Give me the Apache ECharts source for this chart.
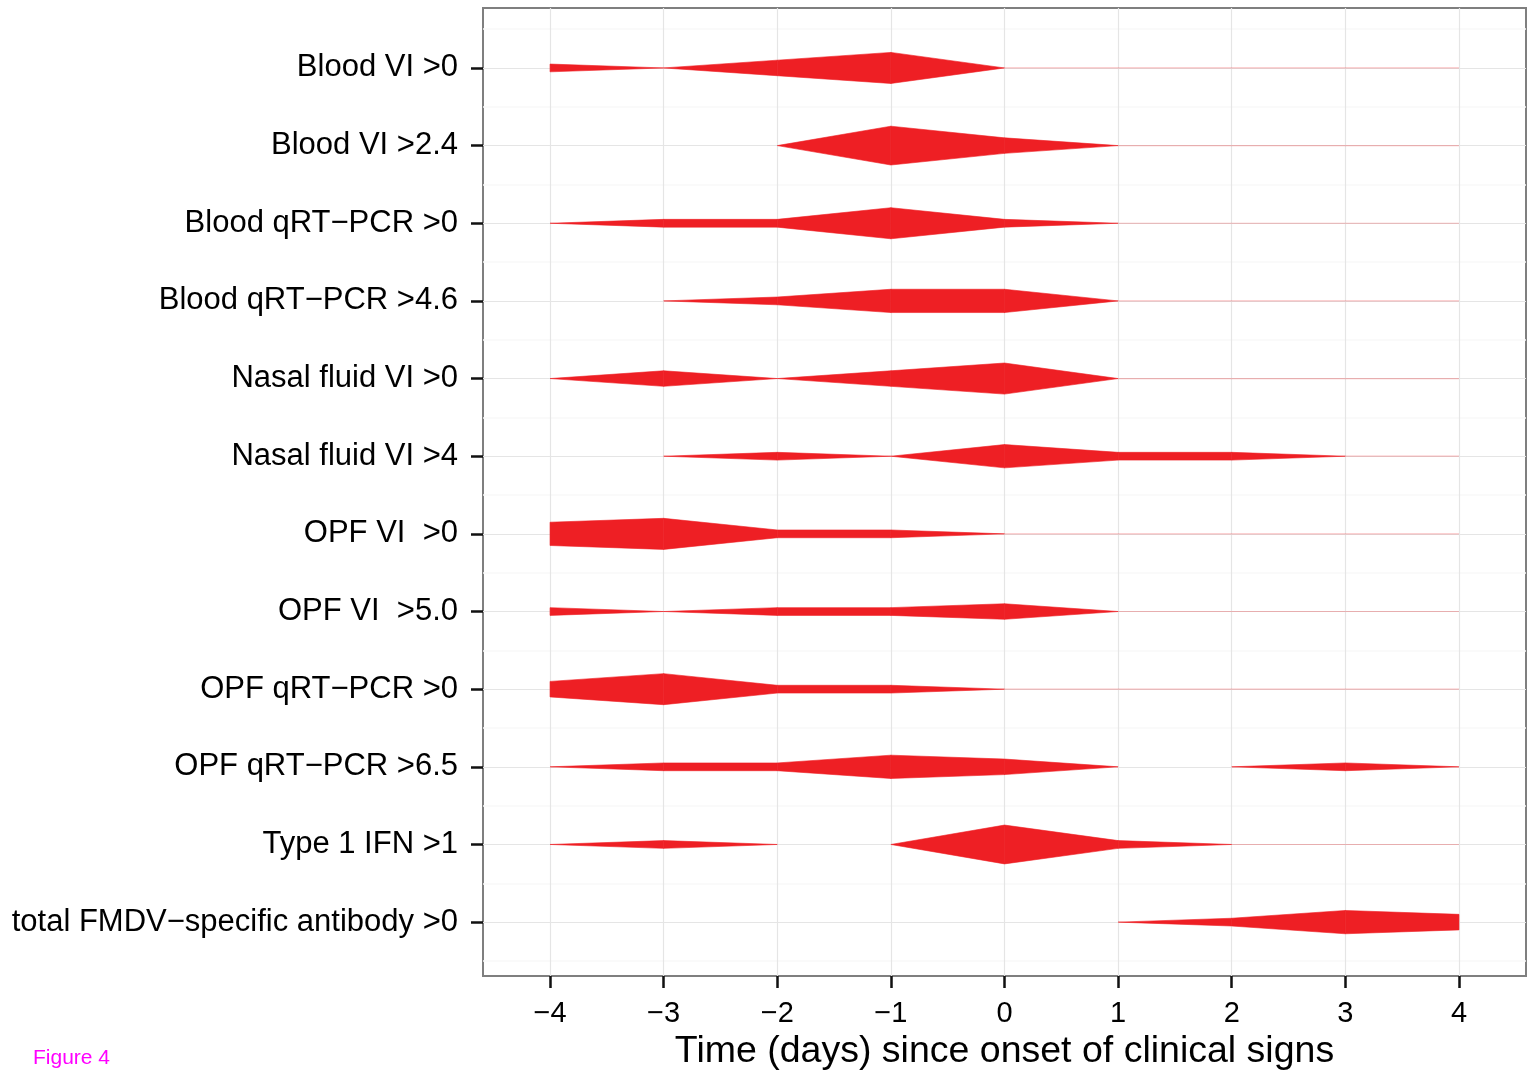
<!DOCTYPE html>
<html>
<head>
<meta charset="utf-8">
<script src="https://cdn.jsdelivr.net/npm/echarts@6/dist/echarts.min.js"></script>
<style>
html,body{margin:0;padding:0;background:#fff;}
#chart{width:1532px;height:1076px;}
</style>
</head>
<body>
<div id="chart"></div>
<script>
// Days since onset of clinical signs
const days = [-4, -3, -2, -1, 0, 1, 2, 3, 4];
const xTicks = [-4, -3, -2, -1, 0, 1, 2, 3, 4];

// Row labels (top to bottom)
const rowNames = [
  'Blood VI >0',
  'Blood VI >2.4',
  'Blood qRT\u2212PCR >0',
  'Blood qRT\u2212PCR >4.6',
  'Nasal fluid VI >0',
  'Nasal fluid VI >4',
  'OPF VI  >0',
  'OPF VI  >5.0',
  'OPF qRT\u2212PCR >0',
  'OPF qRT\u2212PCR >6.5',
  'Type 1 IFN >1',
  'total FMDV\u2212specific antibody >0'
];

// Counts per day (null = not observed)
const bloodVI0    = [1, 0, 2, 4, 0, 0, 0, 0, 0];
const bloodVI24   = [null, null, 0, 5, 2, 0, 0, 0, 0];
const bloodPCR0   = [0, 1, 1, 4, 1, 0, 0, 0, 0];
const bloodPCR46  = [null, 0, 1, 3, 3, 0, 0, 0, 0];
const nasalVI0    = [0, 2, 0, 2, 4, 0, 0, 0, 0];
const nasalVI4    = [null, 0, 1, 0, 3, 1, 1, 0, 0];
const opfVI0      = [3, 4, 1, 1, 0, 0, 0, 0, 0];
const opfVI5      = [1, 0, 1, 1, 2, 0, 0, 0, 0];
const opfPCR0     = [2, 4, 1, 1, 0, 0, 0, 0, 0];
const opfPCR65    = [0, 1, 1, 3, 2, 0, 0, 1, 0];
const ifn1        = [0, 1, 0, 0, 5, 1, 0, 0, 0];
const antibody    = [null, null, null, null, null, 0, 1, 3, 2];

const rowValues = [bloodVI0, bloodVI24, bloodPCR0, bloodPCR46, nasalVI0, nasalVI4,
  opfVI0, opfVI5, opfPCR0, opfPCR65, ifn1, antibody];

const HALF = 0.05; // half-width (in row units) per count
const RED = '#ee1f24';

// Build segments: [x0, x1, row, w0, w1, kind] kind 1 = polygon, 0 = faint line
const segData = [];
rowValues.forEach((vals, r) => {
  for (let i = 0; i < days.length - 1; i++) {
    const a = vals[i], b = vals[i + 1];
    if (a === null || b === null) continue;
    if (a > 0 || b > 0) {
      segData.push([days[i], days[i + 1], r, a, b, 1]);
    } else {
      const rest = vals.slice(i + 1).filter(v => v !== null);
      if (rest.every(v => v === 0)) segData.push([days[i], days[i + 1], r, 0, 0, 0]);
    }
  }
});

const rowTicks = rowNames.map((_, i) => i);
const minorRowTicks = [-0.5].concat(rowNames.map((_, i) => i + 0.5));

function fmtX(v) { return v < 0 ? '\u2212' + Math.abs(v) : String(v); }

const FONT = 'Liberation Sans, Arial, Helvetica, sans-serif';
const chart = echarts.init(document.getElementById('chart'));
chart.setOption({
  backgroundColor: '#ffffff',
  animation: false,
  textStyle: { fontFamily: FONT },
  grid: {
    left: 483, right: 6, top: 8, bottom: 99,
    show: true, borderColor: '#7f7f7f', borderWidth: 2, backgroundColor: 'transparent'
  },
  xAxis: {
    type: 'value', min: -4.59, max: 4.59, position: 'bottom',
    axisLine: { show: false, onZero: false },
    axisTick: { show: true, customValues: xTicks, length: 12, lineStyle: { color: '#111', width: 2.5 } },
    axisLabel: { customValues: xTicks, formatter: fmtX, fontSize: 29, color: '#000', margin: 23 },
    splitLine: { show: true, lineStyle: { color: '#e5e5e5', width: 1.2 } },
    name: 'Time (days) since onset of clinical signs',
    nameLocation: 'middle', nameGap: 54,
    nameTextStyle: { fontSize: 37.5, color: '#000' }
  },
  yAxis: [{
    type: 'value', inverse: true, min: -0.772, max: 11.695, position: 'left',
    axisLine: { show: false, onZero: false },
    axisTick: { show: true, customValues: rowTicks, length: 12, lineStyle: { color: '#111', width: 2.5 } },
    axisLabel: { customValues: rowTicks, formatter: v => rowNames[Math.round(v)] || '', fontSize: 31, color: '#000', margin: 25, padding: [4, 0, 0, 0] },
    splitLine: { show: true, lineStyle: { color: '#e5e5e5', width: 1.2 } }
  }, {
    type: 'value', inverse: true, min: -0.772, max: 11.695, position: 'left',
    axisLine: { show: false, onZero: false },
    axisTick: { show: false, customValues: minorRowTicks },
    axisLabel: { show: false, customValues: minorRowTicks },
    splitLine: { show: true, lineStyle: { color: '#f8f8f8', width: 1.5 } }
  }],
  series: [{
    type: 'custom',
    xAxisIndex: 0, yAxisIndex: 0,
    data: segData,
    encode: { x: [0, 1], y: 2 },
    clip: true,
    renderItem: function (params, api) {
      const x0 = api.value(0), x1 = api.value(1), r = api.value(2);
      const w0 = api.value(3) * HALF, w1 = api.value(4) * HALF;
      const kind = api.value(5);
      if (kind === 0) {
        const p0 = api.coord([x0, r]), p1 = api.coord([x1, r]);
        return {
          type: 'line',
          shape: { x1: p0[0], y1: p0[1], x2: p1[0], y2: p1[1] },
          style: { stroke: 'rgba(238,31,36,0.28)', lineWidth: 1.2 }
        };
      }
      const pts = [
        api.coord([x0, r - w0]), api.coord([x1, r - w1]),
        api.coord([x1, r + w1]), api.coord([x0, r + w0])
      ];
      return { type: 'polygon', shape: { points: pts }, style: { fill: RED, stroke: RED, lineWidth: 0.6 } };
    }
  }],
  graphic: [{
    type: 'text', left: 33, top: 1048,
    style: { text: 'Figure 4', fill: '#ff00ff', fontSize: 21, fontFamily: FONT }
  }]
});
</script>
</body>
</html>
